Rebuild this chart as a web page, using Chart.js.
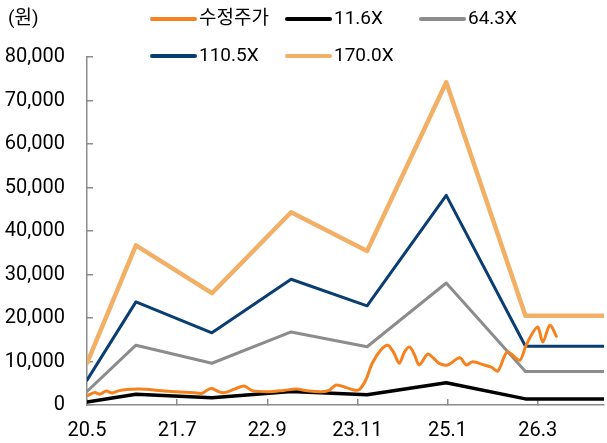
<!DOCTYPE html>
<html>
<head>
<meta charset="utf-8">
<script src="https://cdn.jsdelivr.net/npm/chart.js@4.4.1/dist/chart.umd.min.js"></script>
<style>
html,body{margin:0;padding:0;background:#fff;}
#wrap{position:relative;width:607px;height:443px;}
</style>
</head>
<body>
<div id="wrap"><canvas id="c" width="607" height="443"></canvas></div>
<script>
// x values are months since 2020.5
const tickLabels = ['20.5','21.7','22.9','23.11','25.1','26.3'];
const tickMonths = [0,14,28,42,56,70];
const yTicks = [0,10000,20000,30000,40000,50000,60000,70000,80000];

const seriesNames = ['수정주가','11.6X','64.3X','110.5X','170.0X'];

const priceMonths = [0,1.2,2.0,3.0,3.9,5.0,6.2,8.1,10.4,12.0,13.8,16.6,17.9,18.7,19.4,20.4,21.3,22.9,24.4,25.7,28.3,30.6,32.5,34.5,36.5,37.6,38.7,40.3,41.5,42.3,43.3,44.3,45.6,46.7,47.6,48.5,49.3,50.1,50.9,51.6,52.9,53.8,54.7,56.0,57.9,58.9,59.9,61.7,62.8,63.8,65.3,67.2,68.1,69.0,70.0,70.8,71.9,72.9];
const priceValues = [2100,2850,2500,3200,2750,3300,3550,3650,3450,3200,3050,2800,2700,3450,3800,3100,2800,3650,4350,3300,3050,3350,3650,3200,3050,3350,4600,4000,3450,3550,5750,9600,12600,13750,12150,9600,12150,13350,11450,9200,11700,10800,9550,9200,10850,9200,9950,9200,8700,7800,12200,10300,13350,16050,17950,14500,18350,15800];

const bandMonths = [0,7.6,19.4,31.7,43.5,55.8,68.1,80.3];
const band116 = [700,2450,1650,3100,2350,5100,1400,1400];
const band643 = [3100,13750,9600,16800,13400,28050,7700,7700];
const band1105 = [5700,23700,16600,28900,22800,48200,13500,13500];
const band1700 = [9600,36700,25700,44300,35400,74200,20500,20500];

const colors = ['#F5821F','#000000','#8C8C8C','#0A3D72','#F2B066'];
const widths = [3,3.5,3,3,4.5];

const FONT = "Roboto, 'Noto Sans CJK KR', sans-serif";

function pts(xs, ys){ return xs.map((x,i)=>({x:x,y:ys[i]})); }

const datasets = [
  {label:seriesNames[0], data:pts(priceMonths,priceValues), borderColor:colors[0], borderWidth:widths[0], tension:0.3},
  {label:seriesNames[1], data:pts(bandMonths,band116), borderColor:colors[1], borderWidth:widths[1], tension:0},
  {label:seriesNames[2], data:pts(bandMonths,band643), borderColor:colors[2], borderWidth:widths[2], tension:0},
  {label:seriesNames[3], data:pts(bandMonths,band1105), borderColor:colors[3], borderWidth:widths[3], tension:0},
  {label:seriesNames[4], data:pts(bandMonths,band1700), borderColor:colors[4], borderWidth:widths[4], tension:0}
].map(d=>Object.assign(d,{pointRadius:0,fill:false,borderJoinStyle:'round',borderCapStyle:'round'}));

const legendPlugin = {
  id:'customLegend',
  afterDraw(chart){
    const ctx = chart.ctx;
    ctx.save();
    ctx.font = "19px " + FONT;
    ctx.fillStyle = '#000';
    ctx.textBaseline = 'middle';
    ctx.textAlign = 'left';
    ctx.fillText('(원)', 8, 19);
    const cols = [151,286,420];
    const rows = [19,56];
    const order = [0,1,2,3,4];
    order.forEach((di,k)=>{
      const ds = chart.data.datasets[di];
      const x = cols[k%3], y = rows[Math.floor(k/3)];
      ctx.strokeStyle = ds.borderColor;
      ctx.lineWidth = 4;
      ctx.lineCap = 'round';
      ctx.beginPath(); ctx.moveTo(x+1,y); ctx.lineTo(x+44,y); ctx.stroke();
      ctx.fillStyle = '#000';
      ctx.fillText(ds.label, x+48, y);
    });
    ctx.restore();
  }
};

new Chart(document.getElementById('c'), {
  type:'line',
  data:{datasets:datasets},
  options:{
    responsive:false,
    animation:false,
    layout:{autoPadding:false, padding:{top:57,right:3,left:0,bottom:0}},
    plugins:{legend:{display:false},tooltip:{enabled:false}},
    scales:{
      x:{
        type:'linear', min:0, max:80.3,
        afterBuildTicks(s){ s.ticks = tickMonths.map(v=>({value:v})); },
        afterFit(s){ s.height = 38; },
        ticks:{
          callback:(v,i)=>tickLabels[i],
          color:'#000', font:{size:20, family:FONT}, padding:20, maxRotation:0, autoSkip:false
        },
        grid:{drawOnChartArea:false, tickLength:-6, color:'#8C8C8C', lineWidth:1.5},
        border:{color:'#8C8C8C', width:1.5}
      },
      y:{
        min:0, max:80000,
        afterBuildTicks(s){ s.ticks = yTicks.map(v=>({value:v})); },
        afterFit(s){ s.width = 87; s.paddingTop = 10; s.paddingBottom = 10; },
        ticks:{
          callback:(v)=>v.toLocaleString('en-US'),
          color:'#000', font:{size:20, family:FONT}, padding:28
        },
        grid:{drawOnChartArea:false, tickLength:-6, color:'#8C8C8C', lineWidth:1.5},
        border:{color:'#8C8C8C', width:1.5}
      }
    }
  },
  plugins:[legendPlugin]
});
</script>
</body>
</html>
